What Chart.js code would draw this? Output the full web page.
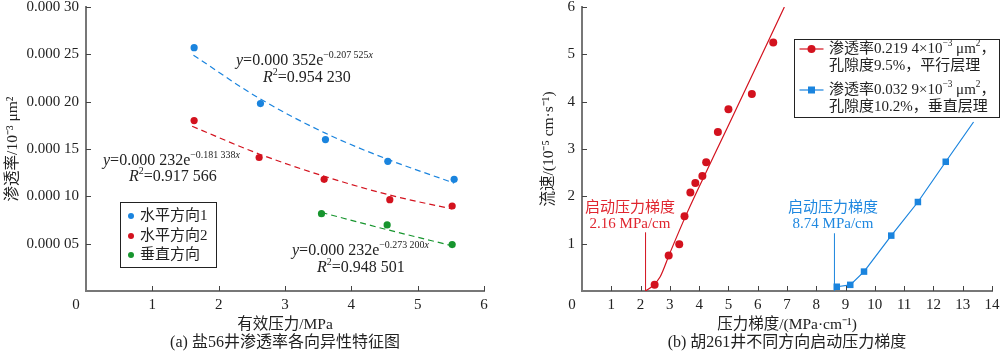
<!DOCTYPE html>
<html>
<head>
<meta charset="utf-8">
<script src="https://cdn.jsdelivr.net/npm/chart.js@4.4.1/dist/chart.umd.min.js"></script>
<style>
body { margin: 0; background: #fff; width: 1000px; height: 354px; overflow: hidden; display: flex; }
canvas { display: block; }
</style>
</head>
<body>
<canvas id="chart-a" width="500" height="354"></canvas>
<canvas id="chart-b" width="500" height="354"></canvas>
<script>
// (a) permeability vs effective pressure
const h1X = [1.63, 2.63, 3.61, 4.55, 5.55];
const h1Y = [0.000257, 0.000198, 0.000160, 0.000137, 0.000118];
const h2X = [1.63, 2.61, 3.59, 4.58, 5.52];
const h2Y = [0.000180, 0.000141, 0.000118, 0.0000965, 0.0000898];
const vX = [3.55, 4.54, 5.52];
const vY = [0.0000817, 0.0000698, 0.0000490];
// trend curves
const fit1X = [1.62, 2.6, 3.6, 4.55, 5.55];
const fit1Y = [0.000249, 0.000204, 0.000167, 0.000139, 0.000114];
const fit2X = [1.6, 2.6, 3.6, 4.6, 5.52];
const fit2Y = [0.000174, 0.000145, 0.000121, 0.000101, 0.0000866];
const fit3X = [3.55, 4.5, 5.52];
const fit3Y = [0.0000830, 0.0000655, 0.0000478];
const leftXTicks = ['', '1', '2', '3', '4', '5', '6'];
const leftYTicks = ['', '0.000 05', '0.000 10', '0.000 15', '0.000 20', '0.000 25', '0.000 30'];
const leftSeries = ['水平方向1', '水平方向2', '垂直方向'];

// (b) flow rate vs pressure gradient
const parX = [2.48, 2.96, 3.32, 3.50, 3.70, 3.87, 4.11, 4.24, 4.64, 5.00, 5.80, 6.53];
const parY = [0.13, 0.75, 0.99, 1.58, 2.08, 2.28, 2.43, 2.72, 3.36, 3.84, 4.16, 5.25];
const parFitX = [2.17, 2.4, 2.67, 3.0, 3.58, 4.5, 5.5, 6.91];
const parFitY = [0, 0.1, 0.3, 0.8, 1.64, 2.85, 4.15, 6.0];
const perX = [8.70, 9.16, 9.63, 10.56, 11.47, 12.42];
const perY = [0.09, 0.13, 0.41, 1.17, 1.88, 2.73];
const perLineX = [8.70, 9.16, 9.63, 10.56, 11.47, 12.42, 13.37];
const perLineY = [0.09, 0.13, 0.41, 1.17, 1.88, 2.73, 3.57];
const startX = [2.17, 8.62];
const startTop = [1.24, 1.22];
const rightXTicks = ['', '1', '2', '3', '4', '5', '6', '7', '8', '9', '10', '11', '12', '13', '14'];
const rightYTicks = ['', '1', '2', '3', '4', '5', '6'];

const SERIF = '"Liberation Serif", "Noto Sans CJK SC", serif';
const BLUE = '#1a84de';
const RED = '#d3121e';
const GREEN = '#17952e';

Chart.defaults.font.family = SERIF;
Chart.defaults.font.size = 15;
Chart.defaults.color = '#222';
Chart.defaults.animation = false;
Chart.defaults.events = [];

function pts(xs, ys) {
    return xs.map((x, i) => ({ x: x, y: ys[i] }));
}

// rich text: parts are [text, flags] with i = italic, s = superscript
function rich(ctx, x, y, parts, size, color, align) {
    ctx.save();
    ctx.textBaseline = 'middle';
    ctx.textAlign = 'left';
    ctx.fillStyle = color;
    const fontOf = p => {
        const f = p[1] || '';
        const fs = f.includes('s') ? size * 0.62 : size;
        return (f.includes('i') ? 'italic ' : '') + fs + 'px ' + SERIF;
    };
    let w = 0;
    parts.forEach(p => { ctx.font = fontOf(p); w += ctx.measureText(p[0]).width; });
    let cx = align === 'center' ? x - w / 2 : x;
    parts.forEach(p => {
        ctx.font = fontOf(p);
        const dy = (p[1] || '').includes('s') ? -size * 0.36 : 0;
        ctx.fillText(p[0], cx, y + dy);
        cx += ctx.measureText(p[0]).width;
    });
    ctx.restore();
}

const decor = {
    id: 'decor',
    beforeDatasetsDraw(chart) {
        const ctx = chart.ctx;
        const area = chart.chartArea;
        const sx = chart.scales.x, sy = chart.scales.y;
        ctx.save();
        ctx.strokeStyle = '#444';
        ctx.lineWidth = 1;
        ctx.beginPath();
        sx.ticks.forEach((t, i) => {
            if (t.value === 0) return;
            const p = Math.round(sx.getPixelForTick(i)) + 0.5;
            ctx.moveTo(p, area.bottom);
            ctx.lineTo(p, area.bottom - 5);
        });
        sy.ticks.forEach((t, i) => {
            if (t.value === 0) return;
            const p = Math.round(sy.getPixelForTick(i)) + 0.5;
            ctx.moveTo(area.left, p);
            ctx.lineTo(area.left + 5, p);
        });
        ctx.stroke();
        ctx.restore();
    },
    afterDraw(chart, args, opts) {
        const ctx = chart.ctx;
        const area = chart.chartArea;
        ctx.save();
        ctx.fillStyle = '#222';
        ctx.font = '15px ' + SERIF;
        ctx.textAlign = 'center';
        ctx.textBaseline = 'middle';
        ctx.fillText('0', area.left - 10, 305);
        ctx.font = '16px ' + SERIF;
        ctx.fillText(opts.caption, (area.left + area.right) / 2, 343);
        ctx.restore();
        (opts.notes || []).forEach(n => rich(ctx, n.x, n.y, n.parts, n.size || 16, n.color || '#222', n.align));
        const lg = opts.legend;
        if (lg) {
            ctx.save();
            ctx.fillStyle = '#fff';
            ctx.fillRect(lg.x, lg.y, lg.w, lg.h);
            ctx.strokeStyle = '#222';
            ctx.lineWidth = 1;
            ctx.strokeRect(lg.x + 0.5, lg.y + 0.5, lg.w, lg.h);
            lg.items.forEach(it => {
                const ds = chart.data.datasets[it.ds];
                ctx.fillStyle = ds.backgroundColor;
                ctx.strokeStyle = ds.backgroundColor;
                if (lg.line) {
                    ctx.lineWidth = 1.2;
                    ctx.beginPath();
                    ctx.moveTo(lg.mx - 12, it.y);
                    ctx.lineTo(lg.mx + 12, it.y);
                    ctx.stroke();
                }
                if (ds.pointStyle === 'rect') {
                    ctx.fillRect(lg.mx - 3.5, it.y - 3.5, 7, 7);
                } else {
                    ctx.beginPath();
                    ctx.arc(lg.mx, it.y, lg.r, 0, Math.PI * 2);
                    ctx.fill();
                }
                it.lines.forEach((ln, k) => rich(ctx, lg.tx, it.y + k * lg.gap, ln, 15, '#222'));
            });
            ctx.restore();
        }
    }
};

function axes(cfg) {
    return {
        x: {
            type: 'linear', min: 0, max: cfg.xMax,
            border: { display: true, color: '#777', width: 2 },
            grid: { display: false, drawTicks: false },
            ticks: { stepSize: 1, padding: 5, callback: (v, i) => cfg.xTicks[i] },
            title: { display: true, text: cfg.xTitle, font: { size: 15.5 }, padding: { top: 0, bottom: 20 } },
            afterFit: s => { s.height = 63; s.paddingLeft = 0; s.paddingRight = 0; }
        },
        y: {
            type: 'linear', min: 0, max: cfg.yMax,
            border: { display: true, color: '#777', width: 2 },
            grid: { display: false, drawTicks: false },
            ticks: { stepSize: cfg.yStep, padding: 7, callback: (v, i) => cfg.yTicks[i] },
            title: { display: true, text: cfg.yTitle, font: { size: 15.5 }, padding: { top: cfg.yTitlePad, bottom: 0 } },
            afterFit: s => { s.width = cfg.yWidth; s.paddingTop = 0; s.paddingBottom = 0; }
        }
    };
}

function dashed(xs, ys, color) {
    return { data: pts(xs, ys), showLine: true, pointRadius: 0, borderColor: color, borderWidth: 1.2,
             borderDash: [6, 4], tension: 0.4, cubicInterpolationMode: 'monotone' };
}

new Chart(document.getElementById('chart-a'), {
    type: 'scatter',
    data: {
        datasets: [
            { label: leftSeries[0], data: pts(h1X, h1Y), backgroundColor: BLUE, pointRadius: 3.6, borderWidth: 0 },
            { label: leftSeries[1], data: pts(h2X, h2Y), backgroundColor: RED, pointRadius: 3.6, borderWidth: 0 },
            { label: leftSeries[2], data: pts(vX, vY), backgroundColor: GREEN, pointRadius: 3.6, borderWidth: 0 },
            dashed(fit1X, fit1Y, BLUE),
            dashed(fit2X, fit2Y, RED),
            dashed(fit3X, fit3Y, GREEN)
        ]
    },
    options: {
        responsive: false,
        layout: { padding: { top: 7, right: 16, left: 0, bottom: 0 } },
        scales: axes({ xMax: 6, yMax: 0.0003, yStep: 0.00005, xTicks: leftXTicks, yTicks: leftYTicks,
                       xTitle: '有效压力/MPa', yTitle: '渗透率/10⁻³ μm²', yTitlePad: 4, yWidth: 86 }),
        plugins: {
            legend: { display: false },
            tooltip: { enabled: false },
            decor: {
                caption: '(a) 盐56井渗透率各向异性特征图',
                notes: [
                    { x: 236, y: 61, parts: [['y', 'i'], ['=0.000 352e'], ['−0.207 525', 's'], ['x', 'si']] },
                    { x: 263, y: 78, parts: [['R', 'i'], ['2', 's'], ['=0.954 230']] },
                    { x: 103, y: 161, parts: [['y', 'i'], ['=0.000 232e'], ['−0.181 338', 's'], ['x', 'si']] },
                    { x: 129, y: 177, parts: [['R', 'i'], ['2', 's'], ['=0.917 566']] },
                    { x: 292, y: 251, parts: [['y', 'i'], ['=0.000 232e'], ['−0.273 200', 's'], ['x', 'si']] },
                    { x: 317, y: 268, parts: [['R', 'i'], ['2', 's'], ['=0.948 501']] }
                ],
                legend: {
                    x: 120, y: 202, w: 96, h: 65, mx: 131, r: 3, tx: 140, gap: 0,
                    items: [
                        { ds: 0, y: 216, lines: [[[leftSeries[0]]]] },
                        { ds: 1, y: 236, lines: [[[leftSeries[1]]]] },
                        { ds: 2, y: 255, lines: [[[leftSeries[2]]]] }
                    ]
                }
            }
        }
    },
    plugins: [decor]
});

new Chart(document.getElementById('chart-b'), {
    type: 'scatter',
    data: {
        datasets: [
            { label: '平行层理', data: pts(parX, parY), backgroundColor: RED, pointRadius: 4, borderWidth: 0 },
            { label: '垂直层理', data: pts(perX, perY), backgroundColor: BLUE, pointStyle: 'rect', pointRadius: 4.6, borderWidth: 0 },
            { data: pts(parFitX, parFitY), showLine: true, pointRadius: 0, borderColor: RED, borderWidth: 1.2,
              tension: 0.4, cubicInterpolationMode: 'monotone' },
            { data: pts(perLineX, perLineY), showLine: true, pointRadius: 0, borderColor: BLUE, borderWidth: 1.2 },
            { data: [{ x: startX[0], y: 0 }, { x: startX[0], y: startTop[0] }], showLine: true, pointRadius: 0, borderColor: RED, borderWidth: 1 },
            { data: [{ x: startX[1], y: 0 }, { x: startX[1], y: startTop[1] }], showLine: true, pointRadius: 0, borderColor: BLUE, borderWidth: 1 }
        ]
    },
    options: {
        responsive: false,
        layout: { padding: { top: 7, right: 8, left: 0, bottom: 0 } },
        scales: axes({ xMax: 14, yMax: 6, yStep: 1, xTicks: rightXTicks, yTicks: rightYTicks,
                       xTitle: '压力梯度/(MPa·cm⁻¹)', yTitle: '流速/(10⁻⁵ cm·s⁻¹)', yTitlePad: 40, yWidth: 82 }),
        plugins: {
            legend: { display: false },
            tooltip: { enabled: false },
            decor: {
                caption: '(b) 胡261井不同方向启动压力梯度',
                notes: [
                    { x: 130, y: 208, parts: [['启动压力梯度']], size: 15, color: '#e0262f', align: 'center' },
                    { x: 130, y: 224, parts: [['2.16 MPa/cm']], size: 15, color: '#e0262f', align: 'center' },
                    { x: 333, y: 208, parts: [['启动压力梯度']], size: 15, color: '#1f88e0', align: 'center' },
                    { x: 333, y: 224, parts: [['8.74 MPa/cm']], size: 15, color: '#1f88e0', align: 'center' }
                ],
                legend: {
                    x: 294, y: 39, w: 205, h: 78, mx: 311.5, r: 4, tx: 329, gap: 17.5, line: true,
                    items: [
                        { ds: 0, y: 49, lines: [
                            [['渗透率0.219 4×10'], ['−3', 's'], [' μm'], ['2', 's'], ['，']],
                            [['孔隙度9.5%，平行层理']]
                        ] },
                        { ds: 1, y: 90, lines: [
                            [['渗透率0.032 9×10'], ['−3', 's'], [' μm'], ['2', 's'], ['，']],
                            [['孔隙度10.2%，垂直层理']]
                        ] }
                    ]
                }
            }
        }
    },
    plugins: [decor]
});
</script>
</body>
</html>
